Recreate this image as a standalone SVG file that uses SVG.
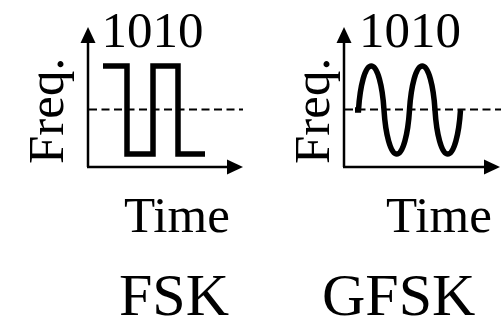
<svg xmlns="http://www.w3.org/2000/svg" width="501" height="323" viewBox="0 0 501 323">
<style>
.t{font-family:"Liberation Serif","Times New Roman",serif;fill:#000}
.ax{stroke:#000;stroke-width:2.5;fill:none}
.dash{stroke:#000;stroke-width:2;stroke-dasharray:8 4.5;fill:none}
.sig{stroke:#000;stroke-width:5.5;fill:none;stroke-linejoin:miter}
.ah{fill:#000}
</style>
<rect width="501" height="323" fill="#fff"/>
<g id="connectors">
<line class="ax" x1="88" y1="167" x2="88" y2="41"/>
<polygon class="ah" points="88,27 80.5,43 95.5,43"/>
<line class="ax" x1="87" y1="167" x2="229" y2="167"/>
<polygon class="ah" points="243,167 227,159.5 227,174.5"/>
<line class="dash" x1="89" y1="109.5" x2="243" y2="109.5"/>
<line class="ax" x1="344" y1="167" x2="344" y2="41"/>
<polygon class="ah" points="344,27 336.5,43 351.5,43"/>
<line class="ax" x1="343" y1="167" x2="486" y2="167"/>
<polygon class="ah" points="500,167 484,159.5 484,174.5"/>
<line class="dash" x1="345" y1="109.5" x2="501" y2="109.5"/>
</g>
<g id="fsk">
<path class="sig" d="M103,66 H127 V154 H153 V66 H178 V154 H205"/>
<text class="t" x="101.5" y="47" font-size="51">1010</text>
<text class="t" font-size="51" transform="translate(63,164) rotate(-90)">Freq.</text>
<text class="t" x="124" y="232" font-size="51">Time</text>
<text class="t" x="119" y="315" font-size="60">FSK</text>
</g>
<g id="gfsk">
<path class="sig" d="M355,110 H358.5 C360,86 365,66 371.25,66 C377.5,66 382.5,86 384,110 C385.5,134 390.5,154 396.75,154 C403,154 408,134 409.5,110 C411,86 416,66 422.25,66 C428.5,66 433.5,86 435,110 C436.5,134 441.5,154 447.75,154 C454,154 459,134 460.5,110"/>
<text class="t" x="359" y="47" font-size="51">1010</text>
<text class="t" font-size="51" transform="translate(329,164) rotate(-90)">Freq.</text>
<text class="t" x="386" y="232" font-size="51">Time</text>
<text class="t" x="322" y="315" font-size="60">GFSK</text>
</g>
</svg>
